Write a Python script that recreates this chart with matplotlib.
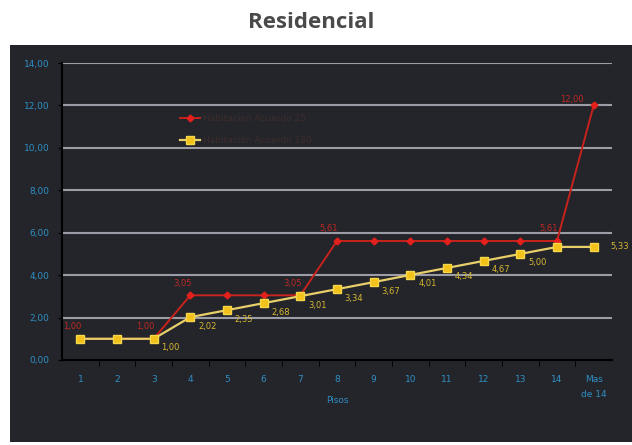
import matplotlib.pyplot as plt
from matplotlib.patches import Rectangle

# Floors and the two ventilation-agreement series
pisos = ['1', '2', '3', '4', '5', '6', '7', '8', '9', '10', '11', '12', '13', '14', 'Mas\nde 14']
acuerdo_25 = [1.00, 1.00, 1.00, 3.05, 3.05, 3.05, 3.05, 5.61, 5.61, 5.61, 5.61, 5.61, 5.61, 5.61, 12.00]
acuerdo_180 = [1.00, 1.00, 1.00, 2.02, 2.35, 2.68, 3.01, 3.34, 3.67, 4.01, 4.34, 4.67, 5.00, 5.33, 5.33]
etiquetas_25 = [0, 2, 3, 6, 7, 13, 14]
etiquetas_180 = [2, 3, 4, 5, 6, 7, 8, 9, 10, 11, 12, 14]
yticks = [0, 2, 4, 6, 8, 10, 12, 14]

BG = '#23252b'
GRID = '#9c9ca6'
BLUE = '#2f8fc4'
RED = '#c8221c'
YEL = '#f2c21a'


def fmt(v):
    return '{:.2f}'.format(v).replace('.', ',')


fig = plt.figure(figsize=(6.32, 4.45), dpi=100, facecolor='white')
# dark panel behind the chart
fig.patches.append(Rectangle((10 / 632, 3 / 445), 1, 1 - 48 / 445, transform=fig.transFigure,
                             facecolor=BG, edgecolor='none', zorder=-10))
fig.text(311 / 632, 1 - 23 / 445, 'Residencial', ha='center', va='center', fontsize=16,
         fontweight='bold', family='Open Sans', color='#4a4a4a')

ax = fig.add_axes([62 / 632, 1 - 360 / 445, 550 / 632, 297 / 445])
ax.set_facecolor(BG)
x = list(range(len(pisos)))
ax.set_xlim(-0.5, len(pisos) - 0.5)
ax.set_ylim(0, 14)

for y in yticks[1:]:
    ax.axhline(y, color=GRID, lw=1.5, zorder=1)

ax.plot(x, acuerdo_25, color=RED, lw=1.4, marker='D', ms=3.5, mfc='#e4201c', mec='#e4201c',
        label='Habitación Acuerdo 25', zorder=3)
ax.plot(x, acuerdo_180, color='#e8cf6a', lw=1.6, marker='s', ms=6, mfc=YEL, mec='#f6d64a',
        label='Habitación Acuerdo 180', zorder=4)

for i in etiquetas_25:
    dx, dy = (-8, 12)
    if i == 14:
        dx, dy = (-22, 6)
    ax.annotate(fmt(acuerdo_25[i]), (x[i], acuerdo_25[i]), textcoords='offset pixels',
                xytext=(dx, dy), ha='center', va='center', fontsize=6, color='#c02822', zorder=5)
for i in etiquetas_180:
    dx, dy = (17, -9)
    if i == 14:
        dx, dy = (26, 0)
    ax.annotate(fmt(acuerdo_180[i]), (x[i], acuerdo_180[i]), textcoords='offset pixels',
                xytext=(dx, dy), ha='center', va='center', fontsize=6, color='#d8b830', zorder=5)

ax.set_yticks(yticks)
ax.set_yticklabels([fmt(v) for v in yticks])
ax.set_xticks(x)
ax.set_xticklabels(pisos)
ax.set_xticks([i + 0.5 for i in x[:-1]], minor=True)
ax.tick_params(axis='x', which='major', length=0, pad=11, labelsize=6.5, labelcolor=BLUE)
ax.tick_params(axis='x', which='minor', length=4, color='black', direction='out')
ax.tick_params(axis='y', length=3, color='black', labelsize=6.5, labelcolor=BLUE, pad=6)
for lab in ax.get_xticklabels():
    lab.set_linespacing(1.8)
    lab.set_va('top')
ax.set_xlabel('Pisos', color=BLUE, fontsize=6.5, labelpad=-2)

for side in ['top', 'right']:
    ax.spines[side].set_visible(False)
for side in ['left', 'bottom']:
    ax.spines[side].set_color('black')
    ax.spines[side].set_linewidth(1.5)

leg = ax.legend(loc='upper left', bbox_to_anchor=(0.2, 0.855), frameon=False, fontsize=6.5,
                handlelength=2.2, labelspacing=1.4, handletextpad=0.3)
for t in leg.get_texts():
    t.set_color('#3e2c2c')

fig.savefig('out.png', dpi=100, facecolor='white')
